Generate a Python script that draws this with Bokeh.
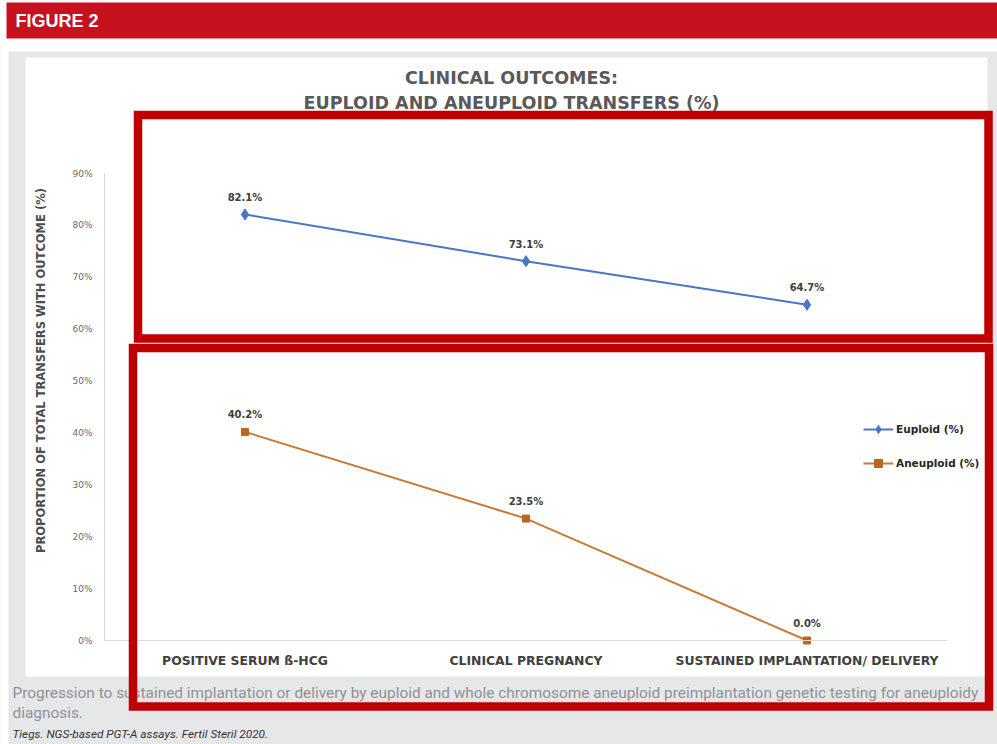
import math
from bokeh.plotting import figure
from bokeh.models import (ColumnDataSource, Range1d, BoxAnnotation, Label,
                          FixedTicker, PrintfTickFormatter)
from bokeh.core.properties import value
from bokeh.embed import file_html
from bokeh.resources import INLINE

# ---------------- data ----------------
categories = ["POSITIVE SERUM ß-HCG", "CLINICAL PREGNANCY", "SUSTAINED IMPLANTATION/ DELIVERY"]
euploid = [82.1, 73.1, 64.7]
aneuploid = [40.2, 23.5, 0.0]
y_ticks = [0, 10, 20, 30, 40, 50, 60, 70, 80, 90]
series_names = ["Euploid (%)", "Aneuploid (%)"]

header_text = "FIGURE 2"
title_lines = ["CLINICAL OUTCOMES:", "EUPLOID AND ANEUPLOID TRANSFERS (%)"]
y_label = "PROPORTION OF TOTAL TRANSFERS WITH OUTCOME (%)"
caption_lines = ["Progression to sustained implantation or delivery by euploid and whole chromosome "
                 "aneuploid preimplantation genetic testing for aneuploidy",
                 "diagnosis."]
citation = "Tiegs. NGS-based PGT-A assays. Fertil Steril 2020."

# category positions on the numeric x scale (one unit per category)
x_pos = [i + 0.5 for i in range(len(categories))]

# ---------------- layout ----------------
W, H = 997, 744
PL, PR, PT, PB = 104, 947, 173, 640      # plot-area pixels
Y0, Y1 = 0, 90
NX = len(categories)


def dx(px):
    return (px - PL) * NX / (PR - PL)


def dy(py):
    return (PB - py) * (Y1 - Y0) / (PB - PT) + Y0


BLUE = "#4A76C6"
ORANGE = "#C97A33"
ORANGE_M = "#C2621F"
RED_BOX = "#C00000"
RED_HEAD = "#C8111F"
GRAY_BG = "#E6E7E8"

p = figure(width=W, height=H,
           x_range=Range1d(dx(0), dx(W)), y_range=Range1d(dy(H), dy(0)),
           output_backend="svg", toolbar_location=None,
           min_border=0, min_border_left=0, min_border_right=0,
           min_border_top=0, min_border_bottom=0)
p.outline_line_color = None
p.border_fill_color = GRAY_BG
p.background_fill_color = GRAY_BG
p.xgrid.visible = False
p.ygrid.visible = False


def box(l, t, r, b, **kw):
    return BoxAnnotation(left=dx(l), right=dx(r), top=dy(t), bottom=dy(b), **kw)


# page background pieces
for (l, t, r, b, c) in [(-20, -20, 1020, 51, "white"),
                        (-20, -20, 8, 780, "white"),
                        (25, 57, 987, 676, "white"),
                        (6, 2, 1020, 38, RED_HEAD)]:
    p.add_layout(box(l, t, r, b, fill_color=c, fill_alpha=1, line_alpha=0, level="underlay"))

# axes (fixed at the data origin, limited to the data extent)
yax = p.yaxis[0]
yax.fixed_location = 0
yax.bounds = (Y0, Y1)
yax.ticker = FixedTicker(ticks=y_ticks)
yax.formatter = PrintfTickFormatter(format="%d%%")
yax.axis_line_color = "#D9D9D9"
yax.major_tick_line_color = None
yax.minor_tick_line_color = None
yax.major_tick_out = 0
yax.major_tick_in = 0
yax.major_label_standoff = 12
yax.major_label_text_font = "DejaVu Sans"
yax.major_label_text_font_size = "9px"
yax.major_label_text_color = "#6A6A6A"

xax = p.xaxis[0]
xax.fixed_location = Y0
xax.bounds = (0, NX)
xax.ticker = FixedTicker(ticks=x_pos)
xax.major_label_overrides = {x: c for x, c in zip(x_pos, categories)}
xax.axis_line_color = "#D9D9D9"
xax.major_tick_line_color = None
xax.minor_tick_line_color = None
xax.major_tick_out = 0
xax.major_tick_in = 0
xax.major_label_standoff = 12
xax.major_label_text_font = "DejaVu Sans"
xax.major_label_text_font_style = "bold"
xax.major_label_text_font_size = "12.4px"
xax.major_label_text_color = "#404040"

# series
p.line(x_pos, euploid, line_color=BLUE, line_width=2, legend_label=series_names[0])
p.scatter(x_pos, euploid, marker="diamond", size=11, fill_color=BLUE, line_color=BLUE,
          legend_label=series_names[0])
p.line(x_pos, aneuploid, line_color=ORANGE, line_width=2, legend_label=series_names[1])
p.scatter(x_pos, aneuploid, marker="square", size=7, fill_color=ORANGE_M, line_color=ORANGE_M,
          legend_label=series_names[1])

lab_src = ColumnDataSource(dict(
    x=x_pos + x_pos,
    y=euploid + aneuploid,
    t=[f"{v:.1f}%" for v in euploid + aneuploid]))
p.text(x="x", y="y", text="t", source=lab_src, text_align="center", text_baseline="middle",
       y_offset=-17, text_font=value("DejaVu Sans"), text_font_style="bold",
       text_font_size="10px", text_color="#404040")

# legend
lg = p.legend[0]
lg.location = (863, H - 473)
lg.padding = 0
lg.margin = 0
lg.spacing = 14
lg.glyph_width = 30
lg.glyph_height = 20
lg.label_height = 20
lg.label_standoff = 3
lg.border_line_alpha = 0
lg.background_fill_alpha = 0
lg.label_text_font = "DejaVu Sans"
lg.label_text_font_style = "bold"
lg.label_text_font_size = "10.5px"
lg.label_text_color = "#262626"

# texts
p.add_layout(Label(x=dx(15), y=dy(20), text=header_text, text_font="Liberation Sans",
                   text_font_style="bold", text_font_size="18px", text_color="white",
                   text_align="left", text_baseline="middle"))
for i, t in enumerate(title_lines):
    p.add_layout(Label(x=dx(511), y=dy(77 + 25 * i), text=t, text_font="DejaVu Sans",
                       text_font_style="bold", text_font_size="17.5px", text_color="#595959",
                       text_align="center", text_baseline="middle"))
p.add_layout(Label(x=dx(40), y=dy(370), text=y_label, text_font="DejaVu Sans",
                   text_font_style="bold", text_font_size="11.5px", text_color="#4D4D4D",
                   text_align="center", text_baseline="middle", angle=math.pi / 2))
for i, t in enumerate(caption_lines):
    p.add_layout(Label(x=dx(12), y=dy(692 + 20 * i), text=t, text_font="Roboto",
                       text_font_size="15.4px", text_color="#929292",
                       text_align="left", text_baseline="middle"))
p.add_layout(Label(x=dx(12), y=dy(733), text=citation, text_font="Roboto",
                   text_font_style="italic", text_font_size="11.8px", text_color="#333333",
                   text_align="left", text_baseline="middle"))

# red highlight frames
for (l, t, r, b) in [(137.5, 114.5, 988, 338), (132.5, 347.5, 988.5, 706)]:
    p.add_layout(box(l, t, r, b, fill_alpha=0, line_color=RED_BOX, line_width=8.5,
                     line_alpha=1, line_join="miter", level="overlay"))

open("out.html", "w").write(file_html(p, INLINE))
